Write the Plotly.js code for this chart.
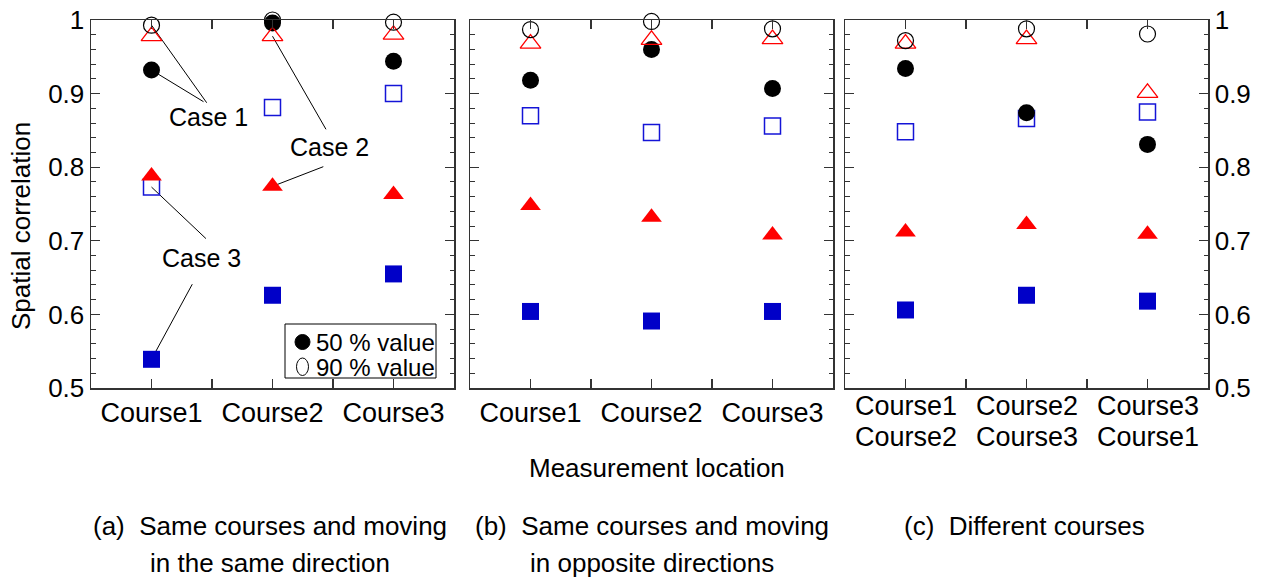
<!DOCTYPE html>
<html>
<head>
<meta charset="utf-8">
<script src="https://cdn.plot.ly/plotly-3.0.1.min.js"></script>
<style>html,body{margin:0;padding:0;background:#fff;}</style>
</head>
<body>
<div id="chart" style="width:1268px;height:579px;"></div>
<script>
// ---------- data ----------
const positions = [1, 2, 3];
const labelsA = ["Course1", "Course2", "Course3"];
const labelsB = ["Course1", "Course2", "Course3"];
const labelsC1 = ["Course1", "Course2", "Course3"];
const labelsC2 = ["Course2", "Course3", "Course1"];
const yTicks = [0.5, 0.6, 0.7, 0.8, 0.9, 1];
const yTickText = ["0.5", "0.6", "0.7", "0.8", "0.9", "1"];

// Case 1 (circles), Case 2 (triangles), Case 3 (squares); 50 % = filled, 90 % = open
const a_case1_50 = [0.932, 0.996, 0.944];
const a_case1_90 = [0.993, 1.000, 0.997];
const a_case2_50 = [0.788, 0.774, 0.763];
const a_case2_90 = [0.978, 0.978, 0.980];
const a_case3_50 = [0.539, 0.626, 0.655];
const a_case3_90 = [0.773, 0.881, 0.900];

const b_case1_50 = [0.918, 0.960, 0.907];
const b_case1_90 = [0.987, 0.998, 0.988];
const b_case2_50 = [0.748, 0.732, 0.708];
const b_case2_90 = [0.968, 0.973, 0.974];
const b_case3_50 = [0.604, 0.591, 0.604];
const b_case3_90 = [0.870, 0.847, 0.856];

const c_case1_50 = [0.934, 0.874, 0.831];
const c_case1_90 = [0.972, 0.988, 0.981];
const c_case2_50 = [0.712, 0.722, 0.709];
const c_case2_90 = [0.968, 0.974, 0.901];
const c_case3_50 = [0.606, 0.626, 0.618];
const c_case3_90 = [0.848, 0.866, 0.875];

const captions = [
  ["(a)\u00a0 Same courses and moving", "in the same direction"],
  ["(b)\u00a0 Same courses and moving", "in opposite directions"],
  ["(c)\u00a0 Different courses", ""]
];
const legendLabels = ["50 % value", "90 % value"];

// ---------- styling ----------
const FONT = "Liberation Sans, Arial, Helvetica, sans-serif";
const BLUE = "rgb(0,0,200)";
const BLUE_LINE = "rgb(20,20,215)";
const RED = "rgb(255,0,0)";
const L = 91, R = 60, T = 20, B = 191, W = 1268, H = 579;
const PW = W - L - R, PH = H - T - B;
const px = v => (v - L) / PW;
const py = v => (H - B - v) / PH;

const STYLE = {
  sq50: {symbol: "square", size: 17, color: BLUE, line: {width: 0}},
  sq90: {symbol: "square-open", size: 16, color: BLUE_LINE, line: {width: 1.5, color: BLUE_LINE}},
  tr50: {symbol: "triangle-up", size: 18, color: RED, line: {width: 0}},
  ci50: {symbol: "circle", size: 17, color: "black", line: {width: 0}},
  tr90: {symbol: "triangle-up-open", size: 18, color: RED, line: {width: 1.3, color: RED}},
  ci90: {symbol: "circle-open", size: 16, color: "black", line: {width: 1.2, color: "black"}}
};

function panelTraces(xa, ya, d) {
  const order = ["sq50", "sq90", "tr50", "ci50", "tr90", "ci90"];
  return order.map(k => ({
    type: "scatter", mode: "markers",
    x: positions, y: d[k], xaxis: xa, yaxis: ya,
    cliponaxis: false, showlegend: false, hoverinfo: "x+y",
    marker: STYLE[k]
  }));
}

const traces = [].concat(
  panelTraces("x", "y", {ci50: a_case1_50, ci90: a_case1_90, tr50: a_case2_50, tr90: a_case2_90, sq50: a_case3_50, sq90: a_case3_90}),
  panelTraces("x2", "y2", {ci50: b_case1_50, ci90: b_case1_90, tr50: b_case2_50, tr90: b_case2_90, sq50: b_case3_50, sq90: b_case3_90}),
  panelTraces("x3", "y3", {ci50: c_case1_50, ci90: c_case1_90, tr50: c_case2_50, tr90: c_case2_90, sq50: c_case3_50, sq90: c_case3_90})
);

const AXC = "#333";
function xAxis(domain, ticktext, anchor, showLabels) {
  return {
    domain: domain, anchor: anchor, range: [0.5, 3.5],
    tickmode: "array", tickvals: positions, ticktext: ticktext, showticklabels: showLabels,
    ticks: "inside", ticklen: 9, tickwidth: 1.2, tickcolor: AXC,
    minor: {tickmode: "array", tickvals: [1.5, 2.5], ticks: "inside", ticklen: 9, tickwidth: 1.2, tickcolor: AXC},
    showline: true, linecolor: AXC, linewidth: 1.5, mirror: "ticks",
    showgrid: false, zeroline: false, fixedrange: true,
    tickfont: {family: FONT, size: 27, color: "black"}
  };
}
function yAxis(anchor, showLabels, side) {
  return {
    anchor: anchor, side: side, range: [0.5, 1],
    tickmode: "array", tickvals: yTicks, ticktext: yTickText, showticklabels: showLabels,
    ticks: "inside", ticklen: 9, tickwidth: 1.2, tickcolor: AXC,
    minor: {dtick: 0.02, tick0: 0.5, ticks: "inside", ticklen: 4.5, tickwidth: 1, tickcolor: AXC},
    showline: true, linecolor: AXC, linewidth: 1.5, mirror: "ticks",
    showgrid: false, zeroline: false, fixedrange: true,
    tickfont: {family: FONT, size: 26, color: "black"}
  };
}

const shapes = [
  // Case 1 leaders
  {type: "line", xref: "x", yref: "y", x0: positions[0], y0: a_case1_90[0], x1: 1.456, y1: 0.8876, line: {color: "black", width: 1}, layer: "below"},
  {type: "line", xref: "x", yref: "y", x0: positions[0], y0: a_case1_50[0], x1: 1.43, y1: 0.889, line: {color: "black", width: 1}, layer: "below"},
  // Case 2 leaders
  {type: "line", xref: "x", yref: "y", x0: positions[1], y0: a_case2_90[1], x1: 2.442, y1: 0.8515, line: {color: "black", width: 1}, layer: "below"},
  {type: "line", xref: "x", yref: "y", x0: 2.42, y0: 0.8007, x1: positions[1], y1: a_case2_50[1], line: {color: "black", width: 1}, layer: "below"},
  // Case 3 leaders
  {type: "line", xref: "x", yref: "y", x0: positions[0], y0: a_case3_90[0], x1: 1.45, y1: 0.703, line: {color: "black", width: 1}, layer: "below"},
  {type: "line", xref: "x", yref: "y", x0: 1.337, y0: 0.641, x1: positions[0], y1: a_case3_50[0], line: {color: "black", width: 1}, layer: "below"},
  // legend box
  {type: "rect", xref: "paper", yref: "paper", x0: px(285), x1: px(436), y0: py(378), y1: py(324), line: {color: "black", width: 1}, fillcolor: "white", layer: "above"},
  // legend symbols
  {type: "circle", xref: "paper", yref: "paper", x0: px(295), x1: px(310), y0: py(349.5), y1: py(334.5), line: {color: "black", width: 1}, fillcolor: "black", layer: "above"},
  {type: "circle", xref: "paper", yref: "paper", x0: px(296.5), x1: px(308.5), y0: py(375.5), y1: py(358), line: {color: "black", width: 1}, fillcolor: "white", layer: "above"}
];

const annFont = {family: FONT, size: 25, color: "black"};
const txt = (xref, x, y, text, font, extra) => Object.assign({
  xref: xref, yref: xref === "paper" ? "paper" : "y", x: x, y: y, text: text,
  xanchor: "center", yanchor: "middle", showarrow: false, font: font
}, extra || {});

const annotations = [
  txt("x", 1.475, 0.868, "Case 1", annFont),
  txt("x", 2.475, 0.8274, "Case 2", annFont),
  txt("x", 1.417, 0.6766, "Case 3", annFont),
  txt("paper", px(314), py(342), legendLabels[0], {family: FONT, size: 24, color: "black"}, {xanchor: "left"}),
  txt("paper", px(314), py(367), legendLabels[1], {family: FONT, size: 24, color: "black"}, {xanchor: "left"}),
  txt("paper", px(21), py(226), "Spatial correlation", {family: FONT, size: 26, color: "black"}, {textangle: -90}),
  txt("paper", px(657), py(468), "Measurement location", {family: FONT, size: 26, color: "black"})
];
// two-line category labels of panel (c)
[labelsC1, labelsC2].forEach((row, j) => row.forEach((t, i) => annotations.push({
  xref: "x3", yref: "paper", x: positions[i], y: py(406 + 31 * j), xanchor: "center", yanchor: "middle", text: t, showarrow: false,
  borderpad: 0, font: {family: FONT, size: 27, color: "black"}
})));
// captions
const capCenters = [270, 652, 1024];
const capRows = [526, 563];
captions.forEach((lines, i) => {
  lines.forEach((t, j) => {
    if (!t) return;
    annotations.push(txt("paper", px(capCenters[i]), py(capRows[j]), t, {family: FONT, size: 26, color: "black"}, {borderpad: 0}));
  });
});

const layout = {
  width: W, height: H, autosize: false,
  margin: {l: L, r: R, t: T, b: B, pad: 0},
  paper_bgcolor: "white", plot_bgcolor: "white",
  showlegend: false,
  font: {family: FONT, size: 26, color: "black"},
  xaxis: xAxis([0, px(454)], labelsA, "y", true),
  xaxis2: xAxis([px(470), px(833)], labelsB, "y2", true),
  xaxis3: xAxis([px(845), 1], labelsC1, "y3", false),
  yaxis: yAxis("x", true, "left"),
  yaxis2: yAxis("x2", false, "left"),
  yaxis3: yAxis("x3", true, "right"),
  shapes: shapes,
  annotations: annotations
};

Plotly.newPlot("chart", traces, layout, {displayModeBar: false, staticPlot: true});
</script>
</body>
</html>
